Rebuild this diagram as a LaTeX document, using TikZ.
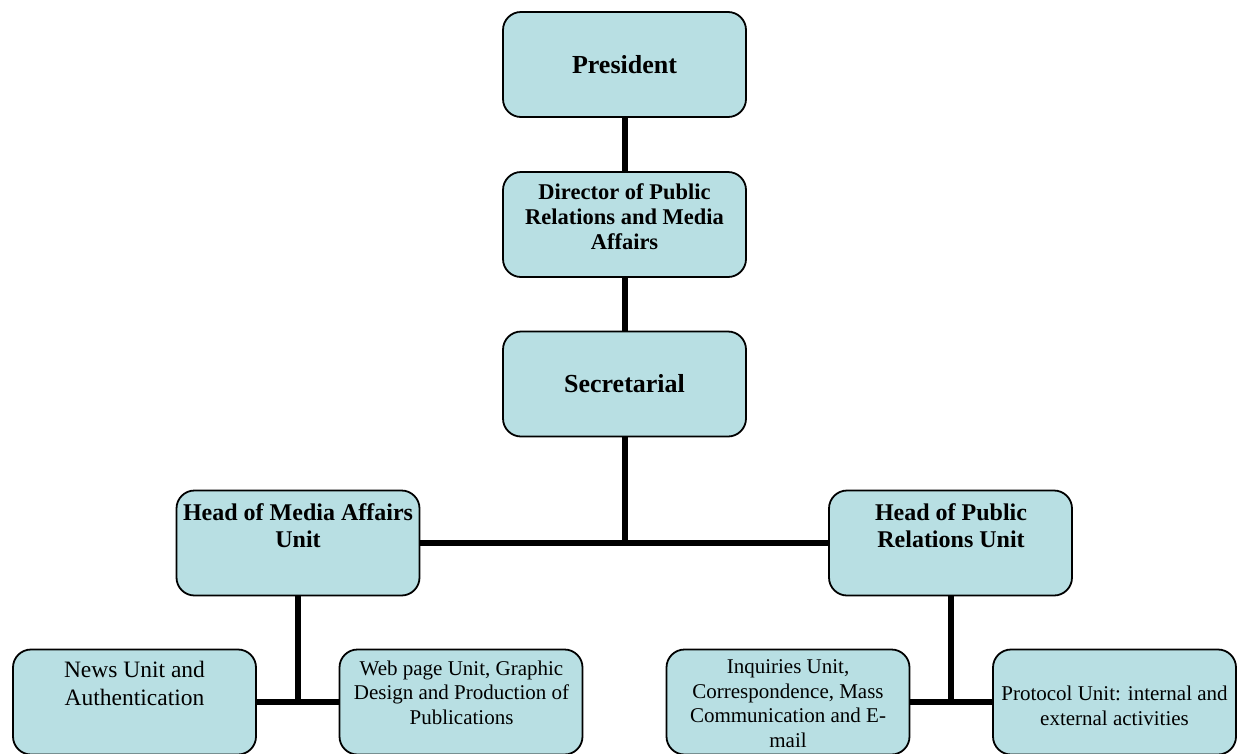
\documentclass[tikz,border=0pt]{standalone}
\usepackage{fontspec}
\setmainfont{Liberation Serif}
\definecolor{boxfill}{RGB}{184,223,227}
\tikzset{
  orgbox/.style={draw=black, line width=1.8pt, fill=boxfill, rounded corners=18pt,
    minimum width=243pt, minimum height=105pt, inner sep=0pt},
  link/.style={line width=6pt, black},
  lbl/.style={align=center, anchor=base, inner sep=0pt},
  bigb/.style={font=\fontsize{26}{30}\selectfont\bfseries},
  headb/.style={font=\fontsize{24}{27}\selectfont\bfseries},
  dirb/.style={font=\fontsize{22.5}{25}\selectfont\bfseries},
  smallr/.style={font=\fontsize{21}{24.5}\selectfont},
  newsr/.style={font=\fontsize{23.5}{28}\selectfont}
}
\begin{document}
\begin{tikzpicture}[x=1pt,y=-1pt]
\useasboundingbox (0,0) rectangle (1246,753);
\node[orgbox] (pres) at (624.5,64.5) {};
\node[orgbox] (dir) at (624.5,224.5) {};
\node[orgbox] (sec) at (624.5,384) {};
\node[orgbox] (media) at (298,543) {};
\node[orgbox] (public) at (950.5,543) {};
\node[orgbox] (news) at (134.5,702) {};
\node[orgbox] (web) at (461,702) {};
\node[orgbox] (inq) at (788,702) {};
\node[orgbox] (prot) at (1114.5,702) {};

\coordinate (j1) at (sec.south |- media.east);
\coordinate (j2) at (media.south |- news.east);
\coordinate (j3) at (public.south |- inq.east);

\draw[link] (pres.south) -- (dir.north);
\draw[link] (dir.south) -- (sec.north);
\draw[link] (sec.south) -- (j1);
\draw[link] (media.east) -- (public.west);
\draw[link] (media.south) -- ([yshift=3pt]j2);
\draw[link] (news.east) -- (web.west);
\draw[link] (public.south) -- ([yshift=3pt]j3);
\draw[link] (inq.east) -- (prot.west);

\node[lbl, bigb] (presT) at (624.5,73) {President};
\node[lbl, dirb] (dirT) at (624.5,249) {Director of Public\\Relations and Media\\Affairs};
\node[lbl, bigb] (secT) at (624.5,392) {Secretarial};
\node[lbl, headb] (mediaT) at (298,547) {Head of Media Affairs\\Unit};
\node[lbl, headb] (publicT) at (951,547) {Head of Public\\Relations Unit};
\node[lbl, newsr] (newsT) at (134.5,705) {News Unit and\\Authentication};
\node[lbl, smallr] (webT) at (461.5,724) {Web page Unit, Graphic\\Design and Production of\\Publications};
\node[lbl, smallr] (inqT) at (788,747) {Inquiries Unit,\\Correspondence, Mass\\Communication and E-\\mail};
\node[lbl, smallr] (protT) at (1114.5,725) {Protocol Unit: internal and\\external activities};
\end{tikzpicture}
\end{document}
